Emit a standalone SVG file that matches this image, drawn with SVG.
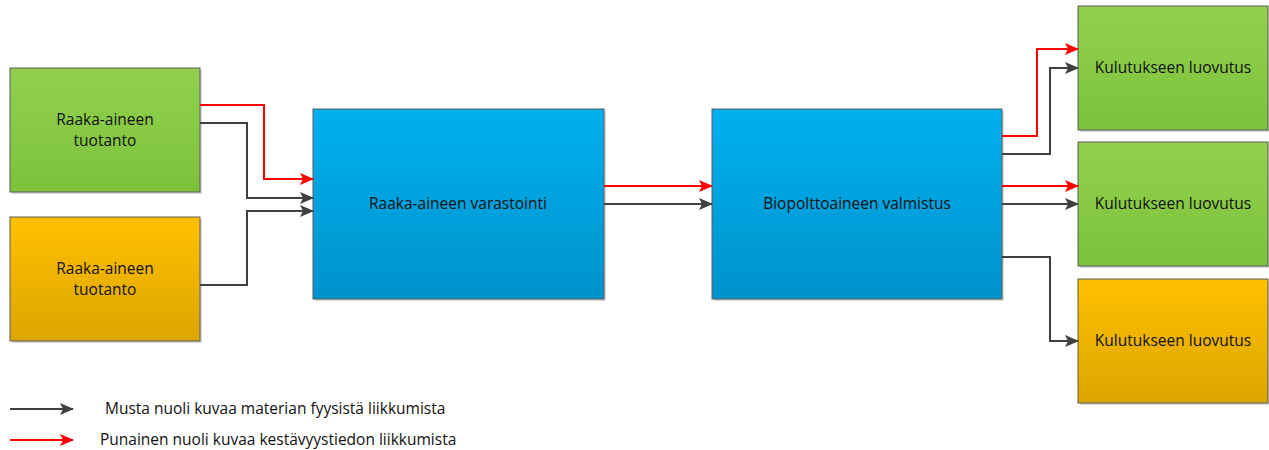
<svg xmlns="http://www.w3.org/2000/svg" width="1269" height="450" viewBox="0 0 1269 450">
<defs>
<linearGradient id="gGreen" x1="0" y1="0" x2="0" y2="1"><stop offset="0" stop-color="#92D050"/><stop offset="1" stop-color="#7DC23A"/></linearGradient>
<linearGradient id="gOrange" x1="0" y1="0" x2="0" y2="1"><stop offset="0" stop-color="#FFC000"/><stop offset="1" stop-color="#DCA600"/></linearGradient>
<linearGradient id="gBlue" x1="0" y1="0" x2="0" y2="1"><stop offset="0" stop-color="#00B0F0"/><stop offset="1" stop-color="#0093CC"/></linearGradient>
<marker id="aBlack" markerWidth="14" markerHeight="12" refX="13" refY="6" orient="auto" markerUnits="userSpaceOnUse"><path d="M0,0 L14,6 L0,12 L3,6 Z" fill="#404040"/></marker>
<marker id="aRed" markerWidth="14" markerHeight="12" refX="13" refY="6" orient="auto" markerUnits="userSpaceOnUse"><path d="M0,0 L14,6 L0,12 L3,6 Z" fill="#FF0000"/></marker>
</defs>
<style>
.box{stroke:#5a5a5a;stroke-width:1}
.shadow{fill:#d9d9d9}
.t{font-family:"Open Sans","Liberation Sans",sans-serif;font-size:15.5px;fill:#111;text-anchor:middle}
.lg{font-family:"Open Sans","Liberation Sans",sans-serif;font-size:15.5px;fill:#111}
.blk{fill:none;stroke:#404040;stroke-width:2;marker-end:url(#aBlack)}
.red{fill:none;stroke:#FF0000;stroke-width:2;marker-end:url(#aRed)}
</style>
<g id="node-src1">
<rect class="shadow" x="12" y="70" width="190" height="124"/>
<rect class="box" x="10" y="68" width="190" height="124" fill="url(#gGreen)"/>
<text class="t" x="105" y="125">Raaka-aineen</text>
<text class="t" x="105" y="146">tuotanto</text>
</g>
<g id="node-src2">
<rect class="shadow" x="12" y="219" width="190" height="124"/>
<rect class="box" x="10" y="217" width="190" height="124" fill="url(#gOrange)"/>
<text class="t" x="105" y="274">Raaka-aineen</text>
<text class="t" x="105" y="295">tuotanto</text>
</g>
<g id="node-storage">
<rect class="shadow" x="315" y="111" width="291" height="190"/>
<rect class="box" x="313" y="109" width="291" height="190" fill="url(#gBlue)"/>
<text class="t" x="458" y="209">Raaka-aineen varastointi</text>
</g>
<g id="node-production">
<rect class="shadow" x="714" y="111" width="290" height="190"/>
<rect class="box" x="712" y="109" width="290" height="190" fill="url(#gBlue)"/>
<text class="t" x="857" y="209">Biopolttoaineen valmistus</text>
</g>
<g id="node-out1">
<rect class="shadow" x="1080" y="8" width="190" height="124"/>
<rect class="box" x="1078" y="6" width="190" height="124" fill="url(#gGreen)"/>
<text class="t" x="1173" y="73">Kulutukseen luovutus</text>
</g>
<g id="node-out2">
<rect class="shadow" x="1080" y="144" width="190" height="124"/>
<rect class="box" x="1078" y="142" width="190" height="124" fill="url(#gGreen)"/>
<text class="t" x="1173" y="209">Kulutukseen luovutus</text>
</g>
<g id="node-out3">
<rect class="shadow" x="1080" y="281" width="190" height="124"/>
<rect class="box" x="1078" y="279" width="190" height="124" fill="url(#gOrange)"/>
<text class="t" x="1173" y="346">Kulutukseen luovutus</text>
</g>
<g id="connectors">
<polyline class="red" points="200,105 264,105 264,179 313,179"/>
<polyline class="blk" points="200,123 247,123 247,198 313,198"/>
<polyline class="blk" points="200,285 247,285 247,211 313,211"/>
<line class="red" x1="604" y1="186" x2="712" y2="186"/>
<line class="blk" x1="604" y1="204" x2="712" y2="204"/>
<polyline class="red" points="1002,136 1037,136 1037,49 1078,49"/>
<polyline class="blk" points="1002,154 1050,154 1050,68 1078,68"/>
<line class="red" x1="1002" y1="186" x2="1078" y2="186"/>
<line class="blk" x1="1002" y1="204" x2="1078" y2="204"/>
<polyline class="blk" points="1002,257 1050,257 1050,341 1078,341"/>
</g>
<g id="legend">
<line class="blk" x1="10" y1="409" x2="73" y2="409"/>
<line class="red" x1="10" y1="440" x2="73" y2="440"/>
<text class="lg" x="105" y="414">Musta nuoli kuvaa materian fyysistä liikkumista</text>
<text class="lg" x="100" y="445">Punainen nuoli kuvaa kestävyystiedon liikkumista</text>
</g>
</svg>
